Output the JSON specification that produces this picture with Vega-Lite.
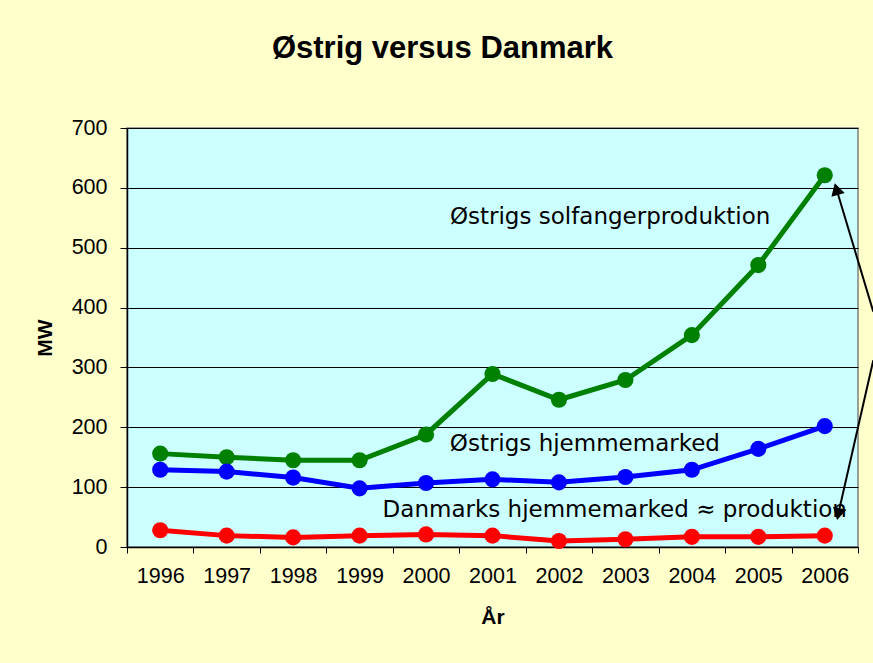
{
  "$schema": "https://vega.github.io/schema/vega-lite/v6.json",
  "width": 731,
  "height": 419,
  "autosize": {"type": "none"},
  "padding": {"left": 127, "top": 128, "right": 15, "bottom": 116},
  "background": "#FFFFCC",
  "title": {
    "text": "Østrig versus Danmark",
    "font": "Liberation Sans",
    "fontSize": 31,
    "fontWeight": "bold",
    "color": "#000000",
    "anchor": "middle",
    "frame": "group",
    "dx": -50,
    "offset": 52
  },
  "config": {
    "view": {"fill": "#CCFFFF", "stroke": "#808080", "strokeWidth": 1.5}
  },
  "datasets": {
    "series": [
      {"year": 1996, "MW": 156, "serie": "Østrigs solfangerproduktion"},
      {"year": 1997, "MW": 150, "serie": "Østrigs solfangerproduktion"},
      {"year": 1998, "MW": 145, "serie": "Østrigs solfangerproduktion"},
      {"year": 1999, "MW": 145, "serie": "Østrigs solfangerproduktion"},
      {"year": 2000, "MW": 188, "serie": "Østrigs solfangerproduktion"},
      {"year": 2001, "MW": 289, "serie": "Østrigs solfangerproduktion"},
      {"year": 2002, "MW": 246, "serie": "Østrigs solfangerproduktion"},
      {"year": 2003, "MW": 279, "serie": "Østrigs solfangerproduktion"},
      {"year": 2004, "MW": 354, "serie": "Østrigs solfangerproduktion"},
      {"year": 2005, "MW": 471, "serie": "Østrigs solfangerproduktion"},
      {"year": 2006, "MW": 621, "serie": "Østrigs solfangerproduktion"},
      {"year": 1996, "MW": 129, "serie": "Østrigs hjemmemarked"},
      {"year": 1997, "MW": 126, "serie": "Østrigs hjemmemarked"},
      {"year": 1998, "MW": 116, "serie": "Østrigs hjemmemarked"},
      {"year": 1999, "MW": 98, "serie": "Østrigs hjemmemarked"},
      {"year": 2000, "MW": 107, "serie": "Østrigs hjemmemarked"},
      {"year": 2001, "MW": 113, "serie": "Østrigs hjemmemarked"},
      {"year": 2002, "MW": 108, "serie": "Østrigs hjemmemarked"},
      {"year": 2003, "MW": 117, "serie": "Østrigs hjemmemarked"},
      {"year": 2004, "MW": 129, "serie": "Østrigs hjemmemarked"},
      {"year": 2005, "MW": 164, "serie": "Østrigs hjemmemarked"},
      {"year": 2006, "MW": 202, "serie": "Østrigs hjemmemarked"},
      {"year": 1996, "MW": 28, "serie": "Danmarks hjemmemarked"},
      {"year": 1997, "MW": 19, "serie": "Danmarks hjemmemarked"},
      {"year": 1998, "MW": 16, "serie": "Danmarks hjemmemarked"},
      {"year": 1999, "MW": 19, "serie": "Danmarks hjemmemarked"},
      {"year": 2000, "MW": 21, "serie": "Danmarks hjemmemarked"},
      {"year": 2001, "MW": 19, "serie": "Danmarks hjemmemarked"},
      {"year": 2002, "MW": 10, "serie": "Danmarks hjemmemarked"},
      {"year": 2003, "MW": 13, "serie": "Danmarks hjemmemarked"},
      {"year": 2004, "MW": 17, "serie": "Danmarks hjemmemarked"},
      {"year": 2005, "MW": 17, "serie": "Danmarks hjemmemarked"},
      {"year": 2006, "MW": 19, "serie": "Danmarks hjemmemarked"}
    ],
    "labels": [
      {"year": 2002.77, "MW": 540, "text": "Østrigs solfangerproduktion"},
      {"year": 2002.39, "MW": 160, "text": "Østrigs hjemmemarked"},
      {"year": 2002.84, "MW": 50, "text": "Danmarks hjemmemarked ≈ produktion"}
    ],
    "arrows": [
      {"arrow": "a", "year": 2006.73, "MW": 393},
      {"arrow": "a", "year": 2006.16, "MW": 604},
      {"arrow": "b", "year": 2006.73, "MW": 312},
      {"arrow": "b", "year": 2006.19, "MW": 49}
    ],
    "heads": [
      {"year": 2006.175, "MW": 598, "angle": 344},
      {"year": 2006.205, "MW": 55, "angle": 193}
    ]
  },
  "encoding": {
    "x": {
      "field": "year",
      "type": "quantitative",
      "scale": {"domain": [1995.5, 2006.5], "nice": false, "zero": false},
      "axis": {
        "title": "År",
        "titleFont": "Liberation Sans",
        "titleFontSize": 21,
        "titleFontWeight": "bold",
        "titleColor": "#000000",
        "titlePadding": 20,
        "values": [1995.5, 1996.5, 1997.5, 1998.5, 1999.5, 2000.5, 2001.5, 2002.5, 2003.5, 2004.5, 2005.5, 2006.5],
        "labelExpr": "datum.value < 2006 ? toString(datum.value + 0.5) : ''",
        "labelOffset": 33.2,
        "labelFlush": false,
        "labelOverlap": false,
        "labelFont": "Liberation Sans",
        "labelFontSize": 21.5,
        "labelColor": "#000000",
        "labelPadding": 12,
        "tickSize": 6,
        "tickColor": "#000000",
        "domainColor": "#000000",
        "domainWidth": 1.5,
        "grid": false
      }
    },
    "y": {
      "field": "MW",
      "type": "quantitative",
      "scale": {"domain": [0, 700], "nice": false},
      "axis": {
        "title": "MW",
        "titleFont": "Liberation Sans",
        "titleFontSize": 21,
        "titleFontWeight": "bold",
        "titleColor": "#000000",
        "titlePadding": 16,
        "values": [0, 100, 200, 300, 400, 500, 600, 700],
        "labelFont": "Liberation Sans",
        "labelFontSize": 21.5,
        "labelColor": "#000000",
        "labelPadding": 13,
        "tickSize": 7,
        "tickColor": "#000000",
        "domainColor": "#000000",
        "domainWidth": 1.5,
        "grid": true,
        "gridColor": "#000000",
        "gridWidth": 1
      }
    }
  },
  "layer": [
    {
      "data": {"name": "series"},
      "mark": {"type": "line", "strokeWidth": 5},
      "encoding": {
        "color": {
          "field": "serie",
          "type": "nominal",
          "scale": {
            "domain": ["Østrigs solfangerproduktion", "Østrigs hjemmemarked", "Danmarks hjemmemarked"],
            "range": ["#008000", "#0000FF", "#FF0000"]
          },
          "legend": null
        }
      }
    },
    {
      "data": {"name": "series"},
      "mark": {"type": "point", "shape": "circle", "filled": true, "opacity": 1, "size": 260},
      "encoding": {
        "color": {"field": "serie", "type": "nominal", "legend": null}
      }
    },
    {
      "data": {"name": "labels"},
      "mark": {"type": "text", "font": "DejaVu Sans", "fontSize": 23, "color": "#000000", "align": "center", "baseline": "alphabetic"},
      "encoding": {"text": {"field": "text"}}
    },
    {
      "data": {"name": "arrows"},
      "mark": {"type": "line", "color": "#000000", "strokeWidth": 2, "clip": false},
      "encoding": {"detail": {"field": "arrow"}}
    },
    {
      "data": {"name": "heads"},
      "mark": {"type": "point", "shape": "triangle-up", "filled": true, "color": "#000000", "opacity": 1, "size": 190, "clip": false},
      "encoding": {"angle": {"field": "angle", "type": "quantitative", "scale": null}}
    }
  ]
}
